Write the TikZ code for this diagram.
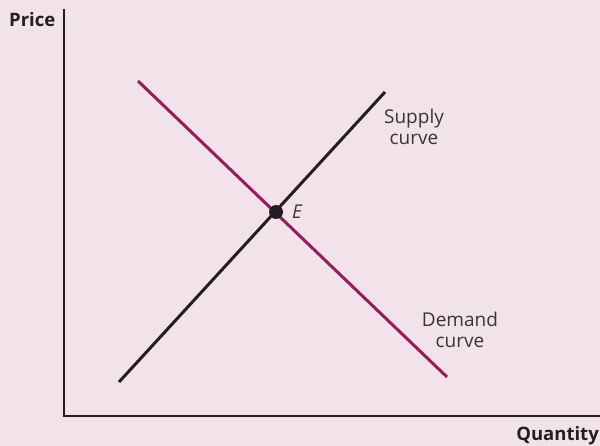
\documentclass[tikz,border=0pt]{standalone}
\usepackage{fontspec}
\setmainfont{Open Sans}
\definecolor{bgpink}{HTML}{F2E3EB}
\definecolor{inkdark}{HTML}{231F20}
\definecolor{demandcol}{HTML}{971C5C}
\begin{document}
\begin{tikzpicture}[x=1pt,y=-1pt,
  axisline/.style={draw=inkdark,line width=2.6pt},
  curveline/.style={line width=3pt},
  lbl/.style={font=\fontsize{19}{20.5}\selectfont,text=inkdark!90,align=center,inner sep=0pt},
  axlbl/.style={font=\fontsize{18.5}{20}\selectfont\bfseries,text=inkdark,inner sep=0pt}]
\fill[bgpink] (0,0) rectangle (600,446);
\useasboundingbox (0,0) rectangle (600,446);
\coordinate (ytop) at (64,9);
\coordinate (orig) at (64,416);
\coordinate (xend) at (600,416);
\draw[axisline] (ytop) -- (orig) -- (xend);
\coordinate (s1) at (119,382);
\coordinate (s2) at (385,92);
\coordinate (d1) at (138,81);
\coordinate (d2) at (447,377);
\draw[curveline,draw=demandcol] (d1) -- (d2);
\draw[curveline,draw=inkdark] (s1) -- (s2);
\node[circle,fill=inkdark,minimum size=14pt,inner sep=0pt] (E) at (276,212) {};
\node[lbl,font=\fontsize{19}{20}\selectfont\itshape] (Elbl) at (297,212) {E};
\node[lbl] (supply) at (414,127) {Supply\\curve};
\node[lbl] (demand) at (460,330) {Demand\\curve};
\node[axlbl,anchor=west] (price) at (9,20) {Price};
\node[axlbl,anchor=east] (qty) at (599,436) {Quantity};
\end{tikzpicture}
\end{document}
